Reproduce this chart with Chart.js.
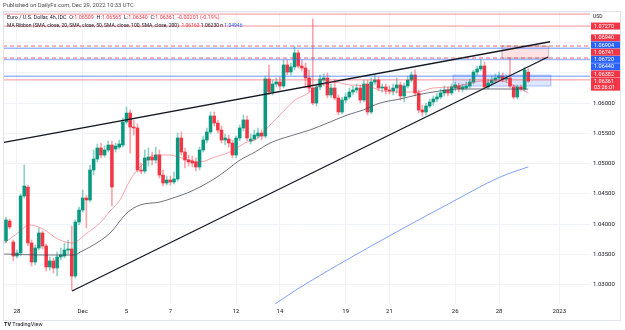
<!DOCTYPE html>
<html>
<head>
<meta charset="utf-8">
<script src="https://cdn.jsdelivr.net/npm/chart.js@4"></script>
<style>
  body { margin: 0; background: #fff; font-family: Roboto, "Liberation Sans", sans-serif; }
  #wrap { position: relative; width: 625px; height: 330px; overflow: hidden; }
  #fx { position: absolute; left: 0; top: 0; }
  .txt { position: absolute; white-space: nowrap; color: #131722; line-height: 1; }
  .up { color: #f23645; }
  .bl { color: #2962ff; }
</style>
</head>
<body>
<div id="wrap">
  <canvas id="fx" width="625" height="330"></canvas>
  <div class="txt" style="left:3px;top:3px;font-size:5.8px;color:#4a4a4a">Published on DailyFx.com, Dec 29, 2022 10:33 UTC</div>
  <div class="txt" style="left:7px;top:14.5px;font-size:5.4px">Euro / U.S. Dollar, 4h, IDC&nbsp; O:<span class="up">1.06509</span>&nbsp; H:<span class="up">1.06565</span>&nbsp; L:<span class="up">1.06340</span>&nbsp; C:<span class="up">1.06361&nbsp; -0.00201 (-0.19%)</span></div>
  <div class="txt" style="left:7px;top:22.5px;font-size:5px">MA Ribbon (SMA, close, 20, SMA, close, 50, SMA, close, 100, SMA, close, 200)&nbsp; <span class="up">1.06163</span> 1.06230 n <span class="bl">1.04946</span></div>
  <div class="txt" style="left:4px;top:321.5px;font-size:5.5px"><b>TV</b> TradingView</div>
</div>
<script>
// EUR/USD 4h candles, oldest first (Nov 25 - Dec 29 2022)
const open = [
  1.03724, 1.04053, 1.03707, 1.03476, 1.03526, 1.04466, 1.04614, 1.03691, 1.03377, 1.03608,
  1.03856, 1.03641, 1.03295, 1.03394, 1.03278, 1.03460, 1.03476, 1.03575, 1.03592, 1.03146,
  1.04037, 1.04235, 1.04433, 1.04400, 1.04895, 1.05076, 1.05258, 1.05142, 1.05225, 1.05307,
  1.05241, 1.05274, 1.05307, 1.05687, 1.05835, 1.05604, 1.05588, 1.04895, 1.04878, 1.05060,
  1.05109, 1.05060, 1.05142, 1.04812, 1.04680, 1.04730, 1.04697, 1.04746, 1.05423, 1.05192,
  1.05060, 1.05043, 1.05027, 1.04944, 1.05225, 1.05390, 1.05522, 1.05786, 1.05670, 1.05555,
  1.05390, 1.05406, 1.05340, 1.05142, 1.05423, 1.05588, 1.05720, 1.05373, 1.05406, 1.05456,
  1.05505, 1.05456, 1.06397, 1.06182, 1.06314, 1.06347, 1.06281, 1.06628, 1.06512, 1.06595,
  1.06826, 1.06611, 1.06578, 1.06413, 1.06248, 1.06000, 1.06265, 1.06380, 1.06413, 1.06133,
  1.06248, 1.06083, 1.05852, 1.06050, 1.06100, 1.06182, 1.06215, 1.06248, 1.06050, 1.06314,
  1.05852, 1.06347, 1.06380, 1.06248, 1.06265, 1.06215, 1.06199, 1.06248, 1.06298, 1.06116,
  1.06281, 1.06380, 1.06463, 1.06166, 1.05885, 1.05852, 1.05951, 1.06017, 1.06067, 1.06100,
  1.06166, 1.06215, 1.06166, 1.06248, 1.06281, 1.06232, 1.06248, 1.06281, 1.06347, 1.06512,
  1.06562, 1.06611, 1.06265, 1.06331, 1.06380, 1.06413, 1.06446, 1.06397, 1.06413, 1.06265,
  1.06100, 1.06265, 1.06232, 1.06509
];
const high = [
  1.04119, 1.04086, 1.03740, 1.03575, 1.04499, 1.04977, 1.04647, 1.03740, 1.03658, 1.03938,
  1.03889, 1.03674, 1.03460, 1.03443, 1.03542, 1.03608, 1.03691, 1.03740, 1.03971, 1.04070,
  1.04284, 1.04565, 1.04482, 1.04977, 1.05225, 1.05324, 1.05340, 1.05291, 1.05373, 1.05373,
  1.05340, 1.05390, 1.05753, 1.05934, 1.05885, 1.05720, 1.05654, 1.05010, 1.05225, 1.05258,
  1.05192, 1.05274, 1.05225, 1.04895, 1.04796, 1.04796, 1.04862, 1.05505, 1.05522, 1.05258,
  1.05142, 1.05126, 1.05093, 1.05274, 1.05456, 1.05588, 1.05852, 1.05852, 1.05720, 1.05621,
  1.05489, 1.05472, 1.05390, 1.05456, 1.05637, 1.05802, 1.05786, 1.05489, 1.05555, 1.05588,
  1.05555, 1.06446, 1.06628, 1.06380, 1.06413, 1.06430, 1.06710, 1.06710, 1.06660, 1.06941,
  1.06875, 1.06710, 1.06660, 1.06545, 1.07386, 1.06314, 1.06463, 1.06479, 1.06496, 1.06314,
  1.06380, 1.06133, 1.06100, 1.06166, 1.06248, 1.06281, 1.06314, 1.06298, 1.06380, 1.06380,
  1.06413, 1.06463, 1.06430, 1.06314, 1.06314, 1.06281, 1.06314, 1.06413, 1.06347, 1.06331,
  1.06446, 1.06512, 1.06545, 1.06215, 1.05967, 1.06000, 1.06067, 1.06116, 1.06166, 1.06232,
  1.06281, 1.06265, 1.06314, 1.06347, 1.06331, 1.06314, 1.06347, 1.06397, 1.06545, 1.06611,
  1.06710, 1.06677, 1.06397, 1.06446, 1.06479, 1.06512, 1.06496, 1.06463, 1.06743, 1.06298,
  1.06298, 1.06298, 1.06595, 1.06565
];
const low = [
  1.03691, 1.03922, 1.03394, 1.03443, 1.03476, 1.04433, 1.03641, 1.03311, 1.03328, 1.03575,
  1.03592, 1.03229, 1.03245, 1.03196, 1.03146, 1.03410, 1.03443, 1.03509, 1.02915, 1.03113,
  1.03987, 1.04202, 1.03938, 1.04367, 1.04812, 1.05027, 1.05093, 1.05109, 1.05192, 1.04301,
  1.05192, 1.05241, 1.05274, 1.05654, 1.05175, 1.05472, 1.04862, 1.04829, 1.04845, 1.04961,
  1.04977, 1.05010, 1.04763, 1.04631, 1.04647, 1.04647, 1.04664, 1.04713, 1.05142, 1.04928,
  1.04961, 1.04944, 1.04878, 1.04895, 1.05192, 1.05340, 1.05489, 1.05621, 1.05505, 1.05340,
  1.05307, 1.05274, 1.05093, 1.05093, 1.05373, 1.05538, 1.05373, 1.05324, 1.05373, 1.05423,
  1.05390, 1.05423, 1.06133, 1.06133, 1.06265, 1.06215, 1.06248, 1.06463, 1.06463, 1.06545,
  1.06578, 1.06529, 1.06248, 1.06182, 1.05967, 1.05951, 1.06215, 1.06281, 1.06083, 1.06083,
  1.06050, 1.05802, 1.05819, 1.06000, 1.06067, 1.06133, 1.06166, 1.06000, 1.06017, 1.05802,
  1.05819, 1.06298, 1.06199, 1.06182, 1.06149, 1.06149, 1.06133, 1.06166, 1.06050, 1.06017,
  1.06248, 1.06347, 1.06116, 1.05835, 1.05786, 1.05802, 1.05918, 1.05967, 1.06017, 1.06067,
  1.06116, 1.06116, 1.06133, 1.06199, 1.06182, 1.06182, 1.06215, 1.06248, 1.06314, 1.06463,
  1.06529, 1.06232, 1.06232, 1.06298, 1.06331, 1.06380, 1.06347, 1.06347, 1.06248, 1.06067,
  1.06067, 1.06199, 1.06199, 1.06340
];
const close = [
  1.04070, 1.03955, 1.03476, 1.03526, 1.04466, 1.04631, 1.03691, 1.03377, 1.03608, 1.03856,
  1.03641, 1.03295, 1.03394, 1.03278, 1.03460, 1.03493, 1.03575, 1.03592, 1.03146, 1.04037,
  1.04235, 1.04433, 1.04400, 1.04895, 1.05076, 1.05258, 1.05142, 1.05225, 1.05307, 1.04614,
  1.05291, 1.05324, 1.05687, 1.05835, 1.05604, 1.05588, 1.04895, 1.04878, 1.05093, 1.05109,
  1.05060, 1.05142, 1.04812, 1.04680, 1.04730, 1.04697, 1.04746, 1.05423, 1.05192, 1.05060,
  1.05027, 1.05010, 1.04944, 1.05225, 1.05390, 1.05522, 1.05786, 1.05670, 1.05555, 1.05390,
  1.05423, 1.05340, 1.05142, 1.05423, 1.05588, 1.05720, 1.05423, 1.05406, 1.05472, 1.05505,
  1.05456, 1.06397, 1.06182, 1.06314, 1.06347, 1.06281, 1.06628, 1.06512, 1.06595, 1.06826,
  1.06611, 1.06578, 1.06413, 1.06248, 1.06000, 1.06265, 1.06397, 1.06413, 1.06133, 1.06248,
  1.06083, 1.05852, 1.06050, 1.06100, 1.06182, 1.06215, 1.06248, 1.06050, 1.06314, 1.05852,
  1.06347, 1.06380, 1.06248, 1.06265, 1.06215, 1.06199, 1.06248, 1.06298, 1.06116, 1.06281,
  1.06380, 1.06463, 1.06166, 1.05885, 1.05852, 1.05951, 1.06017, 1.06067, 1.06100, 1.06166,
  1.06215, 1.06166, 1.06265, 1.06298, 1.06232, 1.06265, 1.06281, 1.06347, 1.06512, 1.06562,
  1.06611, 1.06265, 1.06331, 1.06380, 1.06413, 1.06446, 1.06397, 1.06413, 1.06281, 1.06100,
  1.06265, 1.06232, 1.06545, 1.06361
];

// moving averages (candle index, value)
const sma20At = [-0.5, 2.5, 6.6, 10.1, 14.2, 18.1, 22.2, 25.7, 28.5, 31.2, 34, 36.7, 40.8, 44.9, 49, 53.1, 57.2, 61.3, 65.4, 69, 72.3, 75.8, 79.1, 81.9, 85.2, 89.5, 94.2, 98.8, 103.2, 107.9, 112.5, 116.9, 121.6, 126.2, 130.6, 135.3, 139.4, 143];
const sma20 = [1.03691, 1.03822, 1.03987, 1.03922, 1.03756, 1.03691, 1.03856, 1.04020, 1.04218, 1.04400, 1.04730, 1.04944, 1.05142, 1.05142, 1.05076, 1.05027, 1.05109, 1.05192, 1.05340, 1.05423, 1.05637, 1.05852, 1.06050, 1.06133, 1.06265, 1.06347, 1.06298, 1.06281, 1.06199, 1.06182, 1.06182, 1.06248, 1.06265, 1.06314, 1.06364, 1.06364, 1.06281, 1.06163];
const sma50At = [-0.5, 9.3, 18.9, 20.3, 23, 28.5, 33.1, 36.7, 42.2, 45.7, 49.6, 53.1, 58.6, 64.1, 68.2, 72.3, 77.8, 83.2, 88.7, 93.4, 97.8, 102.4, 107.9, 112.5, 118.8, 124.3, 132.5, 143];
const sma50 = [1.03509, 1.03493, 1.03493, 1.03542, 1.03624, 1.03856, 1.04185, 1.04317, 1.04367, 1.04433, 1.04515, 1.04614, 1.04812, 1.05060, 1.05192, 1.05340, 1.05456, 1.05555, 1.05687, 1.05802, 1.05885, 1.06000, 1.06067, 1.06133, 1.06199, 1.06232, 1.06232, 1.06230];
const sma200At = [71.7, 79.4, 94.2, 107.9, 121.6, 135.3, 143];
const sma200 = [1.02601, 1.02915, 1.03443, 1.03905, 1.04350, 1.04779, 1.04946];

// drawn trend lines: [start index, start price, end index, end price]
const upperTrend = [-0.55, 1.05352, 148.95, 1.07011];
const lowerTrend = [18.07, 1.02898, 148.4, 1.06759];

// horizontal levels
const levelPrices = [1.07467, 1.07270, 1.06940, 1.06904, 1.06741, 1.06720, 1.06440, 1.06382];
const levelKinds = ['red', 'red', 'reddash', 'blue', 'reddash', 'blue', 'blue', 'red'];

// zones: [from index, to index, low price, high price]
const zones = [[135.8, 148.6, 1.06741, 1.06940], [122.4, 149.2, 1.06280, 1.06461]];

// price tags on the right axis
const tagPrices = [1.07270, 1.06940, 1.06904, 1.06741, 1.06720, 1.06440, 1.06382, 1.06361];
const tagKinds = ['red', 'red', 'blue', 'red', 'blue', 'blue', 'red', 'red'];
const countdown = '03:26:01';

// date axis
const dateTickAt = [3, 21, 33, 45, 63, 75, 93, 105, 123, 135, 151.5];
const dateTickLabels = ['28', 'Dec', '5', '7', '12', '14', '19', '21', '26', '28', '2023'];

const priceMin = 1.02684, priceMax = 1.07502;
const idxMin = -0.82, idxMax = 159.9;

const GREEN = '#089981', RED = '#f23645', BLUE = '#2962ff';
const idx = open.map((_, i) => i);
const isUp = i => close[i] >= open[i];

function lineSet(xs, ys, color, width, extra) {
  return Object.assign({
    type: 'line',
    data: xs.map((x, i) => ({x: x, y: ys[i]})),
    borderColor: color,
    borderWidth: width,
    pointRadius: 0,
    fill: false,
    order: 0
  }, extra || {});
}

const levelStyle = {
  red: {c: 'rgba(242,54,69,0.55)', w: 1, d: []},
  reddash: {c: 'rgba(242,54,69,0.5)', w: 1.5, d: [4, 3]},
  blue: {c: 'rgba(41,98,255,0.45)', w: 1.5, d: []}
};

const datasets = [
  {
    type: 'bar',
    data: idx.map(i => ({x: i, y: [low[i], high[i]]})),
    backgroundColor: idx.map(i => isUp(i) ? 'rgba(8,153,129,0.45)' : 'rgba(242,54,69,0.45)'),
    barThickness: 1,
    grouped: false,
    order: 3
  },
  {
    type: 'bar',
    data: idx.map(i => ({x: i, y: [open[i], close[i]]})),
    backgroundColor: idx.map(i => isUp(i) ? GREEN : RED),
    barThickness: 2.9,
    minBarLength: 1,
    grouped: false,
    order: 2
  },
  lineSet(sma20At, sma20, 'rgba(242,54,69,0.45)', 1, {cubicInterpolationMode: 'monotone'}),
  lineSet(sma50At, sma50, 'rgba(67,70,81,0.75)', 1, {cubicInterpolationMode: 'monotone'}),
  lineSet(sma200At, sma200, 'rgba(41,98,255,0.6)', 1, {cubicInterpolationMode: 'monotone'}),
  lineSet([upperTrend[0], upperTrend[2]], [upperTrend[1], upperTrend[3]], '#131722', 1.3),
  lineSet([lowerTrend[0], lowerTrend[2]], [lowerTrend[1], lowerTrend[3]], '#131722', 1.3)
];
levelPrices.forEach((p, k) => {
  const s = levelStyle[levelKinds[k]];
  datasets.push(lineSet([idxMin, idxMax], [p, p], s.c, s.w, {borderDash: s.d}));
});

const extras = {
  id: 'extras',
  beforeDatasetsDraw(chart) {
    const {ctx, chartArea: a, scales: {x, y}} = chart;
    ctx.save();
    ctx.beginPath();
    ctx.rect(a.left, a.top, a.right - a.left, a.bottom - a.top);
    ctx.clip();
    zones.forEach((z, k) => {
      const x0 = x.getPixelForValue(z[0]), x1 = x.getPixelForValue(z[1]);
      const y0 = y.getPixelForValue(z[3]), y1 = y.getPixelForValue(z[2]);
      ctx.fillStyle = k === 0 ? 'rgba(242,54,69,0.15)' : 'rgba(41,98,255,0.16)';
      ctx.strokeStyle = k === 0 ? 'rgba(120,123,134,0.5)' : 'rgba(41,98,255,0.35)';
      ctx.lineWidth = 1;
      ctx.fillRect(x0, y0, x1 - x0, y1 - y0);
      ctx.strokeRect(x0, y0, x1 - x0, y1 - y0);
    });
    ctx.restore();
  },
  afterDraw(chart) {
    const {ctx, chartArea: a, scales: {y}} = chart;
    ctx.save();
    // frame
    ctx.strokeStyle = '#e0e3eb';
    ctx.lineWidth = 1;
    ctx.strokeRect(3.5, 11.5, 617, 309);
    // USD
    ctx.fillStyle = '#131722';
    ctx.font = '5px Roboto, "Liberation Sans", sans-serif';
    ctx.textBaseline = 'middle';
    ctx.fillText('USD', a.right + 3, 17);
    // price tags, pushed up so they do not overlap
    const ys = tagPrices.map(p => y.getPixelForValue(p));
    const order = idx.slice(0, tagPrices.length).sort((m, n) => ys[n] - ys[m]);
    const pos = [];
    let prev = Infinity;
    order.forEach(k => { pos[k] = Math.min(ys[k], prev - 7.2); prev = pos[k]; });
    ctx.font = '5.5px Roboto, "Liberation Sans", sans-serif';
    tagPrices.forEach((p, k) => {
      const last = k === tagPrices.length - 1;
      ctx.fillStyle = tagKinds[k] === 'red' ? RED : BLUE;
      ctx.fillRect(a.right + 1, pos[k] - 3.5, 29, last ? 13 : 7);
      ctx.fillStyle = '#fff';
      ctx.fillText(p.toFixed(5), a.right + 4, pos[k] + 0.3);
      if (last) ctx.fillText(countdown, a.right + 4, pos[k] + 6.3);
    });
    ctx.restore();
  }
};

Chart.defaults.font.family = 'Roboto, "Liberation Sans", sans-serif';
new Chart(document.getElementById('fx'), {
  type: 'bar',
  data: {datasets: datasets},
  options: {
    responsive: false,
    animation: false,
    events: [],
    layout: {padding: {left: 3, top: 12, right: 4, bottom: 10}},
    plugins: {legend: {display: false}, tooltip: {enabled: false}},
    scales: {
      x: {
        type: 'linear',
        min: idxMin,
        max: idxMax,
        offset: false,
        grid: {color: '#f0f3fa', offset: false, drawTicks: false},
        border: {display: false},
        afterBuildTicks: s => { s.ticks = dateTickAt.map(v => ({value: v})); },
        afterFit: s => { s.height = 16; },
        ticks: {
          autoSkip: false,
          maxRotation: 0,
          padding: 4,
          color: '#131722',
          font: {size: 6},
          callback: (v, i) => dateTickLabels[i]
        }
      },
      y: {
        position: 'right',
        min: priceMin,
        max: priceMax,
        beginAtZero: false,
        grid: {color: '#f0f3fa', drawTicks: false},
        border: {display: false},
        afterFit: s => { s.width = 31; },
        ticks: {
          stepSize: 0.005,
          includeBounds: false,
          padding: 3,
          color: '#131722',
          font: {size: 6},
          callback: v => v > 1.0625 ? '' : v.toFixed(5)
        }
      }
    }
  },
  plugins: [extras]
});
</script>
</body>
</html>
